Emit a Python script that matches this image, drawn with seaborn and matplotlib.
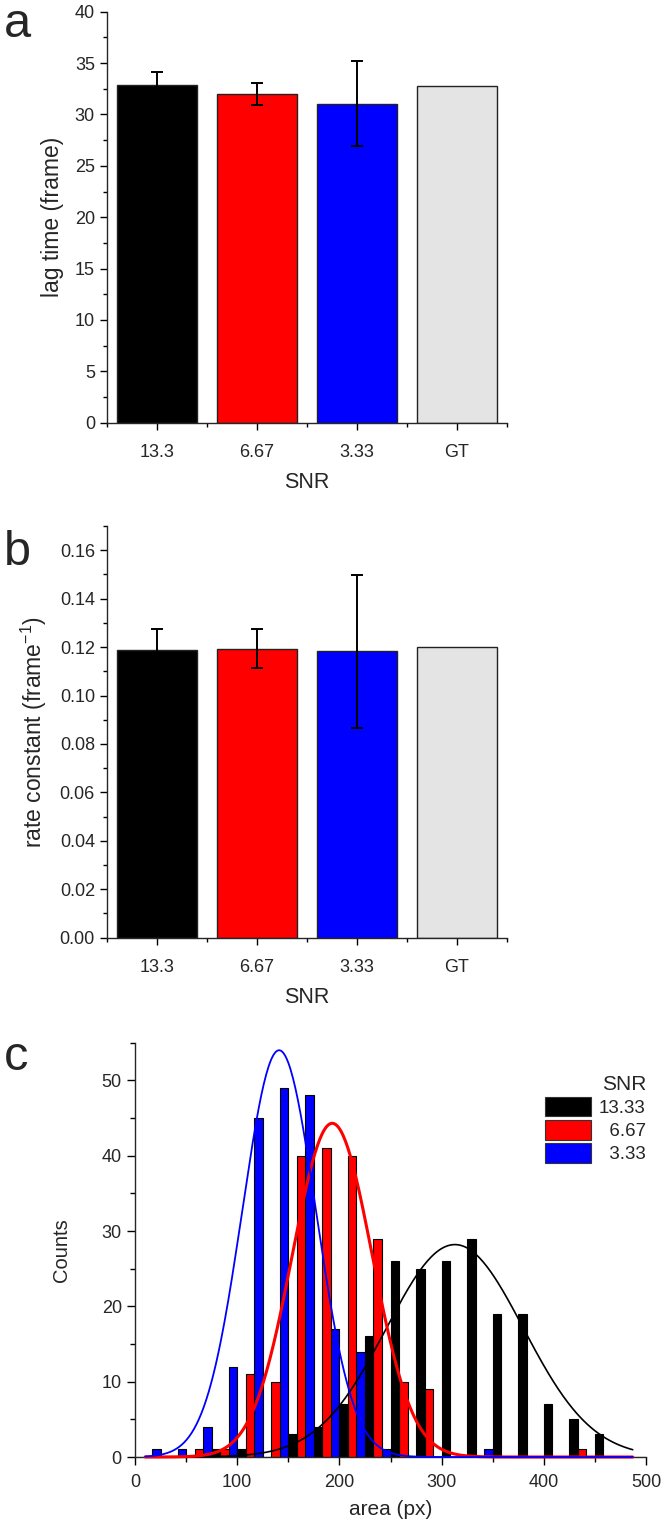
import numpy as np
import pandas as pd
import matplotlib
matplotlib.use("Agg")
import matplotlib.pyplot as plt
from matplotlib.patches import Patch
from matplotlib.ticker import MultipleLocator, FixedLocator
import seaborn as sns

# ---------------- data ----------------
snr_labels = ["13.3", "6.67", "3.33", "GT"]
bar_colors = ["#000000", "#FF0000", "#0000FF", "#E4E4E4"]

lag_time = [32.86, 31.98, 31.04, 32.76]
lag_err = [1.26, 1.1, 4.12]

rate_const = [0.1189, 0.1193, 0.1183, 0.1200]
rate_err = [0.0084, 0.0080, 0.0316]

hist_levels = ["13.33", "6.67", "3.33"]
hist_colors = ["#000000", "#FF0000", "#0000FF"]
bin_left = [0, 25, 50, 75, 100, 125, 150, 175, 200, 225,
            250, 275, 300, 325, 350, 375, 400, 425, 450, 475]
counts_13 = [0, 0, 0, 1, 1, 0, 3, 4, 7, 16, 26, 25, 26, 29, 19, 19, 7, 5, 3, 0]
counts_6 = [0, 0, 1, 1, 11, 10, 40, 41, 40, 29, 10, 9, 0, 0, 0, 0, 0, 1, 0, 0]
counts_3 = [1, 1, 4, 12, 45, 49, 48, 17, 14, 1, 0, 0, 0, 1, 0, 0, 0, 0, 0, 0]

# Gaussian fit parameters (amplitude, centre, sigma)
fit_amp = [28.2, 44.3, 54.0]
fit_mu = [313.0, 193.0, 141.0]
fit_sigma = [67.0, 39.0, 36.0]
fit_lw = [1.2, 2.2, 1.3]

# ---------------- style ----------------
sns.set_style("ticks")
plt.rcParams["font.family"] = ["Liberation Sans", "DejaVu Sans"]
plt.rcParams["axes.linewidth"] = 1.0

W, H = 666, 1526
fig = plt.figure(figsize=(W / 100, H / 100), dpi=100)


def ax_at(left, top, right, bottom):
    return fig.add_axes([left / W, 1 - bottom / H, (right - left) / W, (bottom - top) / H])


def style_bar_axes(ax):
    sns.despine(ax=ax)
    ax.set_xlim(-0.5, 3.5)
    ax.xaxis.set_minor_locator(FixedLocator([-0.5, 0.5, 1.5, 2.5, 3.5]))
    ax.tick_params(axis="both", which="major", direction="out", length=5, width=1,
                   labelsize=13, color="black")
    ax.tick_params(axis="both", which="minor", direction="out", length=3, width=1,
                   color="black")
    ax.tick_params(axis="x", which="major", pad=10.5)
    ax.set_xlabel("SNR", fontsize=15.5, labelpad=8)


# ---------------- panel a ----------------
ax1 = ax_at(106.7, 11.7, 506.7, 422.7)
df_a = pd.DataFrame({"SNR": snr_labels, "val": lag_time})
sns.barplot(data=df_a, x="SNR", y="val", hue="SNR", palette=bar_colors,
            order=snr_labels, hue_order=snr_labels, legend=False, width=0.8,
            edgecolor="#222222", linewidth=1.0, saturation=1, ax=ax1)
ax1.errorbar(x=[0, 1, 2], y=lag_time[:3], yerr=lag_err, fmt="none",
             ecolor="black", elinewidth=1.4, capsize=4, capthick=1.4, zorder=5)
ax1.set_ylim(0, 40)
ax1.yaxis.set_major_locator(MultipleLocator(5))
ax1.yaxis.set_minor_locator(MultipleLocator(2.5))
ax1.set_ylabel("lag time (frame)", fontsize=16.5, labelpad=8)
style_bar_axes(ax1)

# ---------------- panel b ----------------
ax2 = ax_at(106.7, 526, 506.7, 937.7)
df_b = pd.DataFrame({"SNR": snr_labels, "val": rate_const})
sns.barplot(data=df_b, x="SNR", y="val", hue="SNR", palette=bar_colors,
            order=snr_labels, hue_order=snr_labels, legend=False, width=0.8,
            edgecolor="#222222", linewidth=1.0, saturation=1, ax=ax2)
ax2.errorbar(x=[0, 1, 2], y=rate_const[:3], yerr=rate_err, fmt="none",
             ecolor="black", elinewidth=1.4, capsize=4, capthick=1.4, zorder=5)
ax2.set_ylim(0, 0.17)
ax2.yaxis.set_major_locator(MultipleLocator(0.02))
ax2.yaxis.set_minor_locator(MultipleLocator(0.01))
ax2.yaxis.set_major_formatter(matplotlib.ticker.FormatStrFormatter("%.2f"))
ax2.set_ylabel(r"rate constant (frame$^{\mathregular{-1}}$)", fontsize=16.5, labelpad=8)
style_bar_axes(ax2)

# ---------------- panel c ----------------
ax3 = ax_at(135, 1042.7, 646, 1457)
centers = [b + 12.5 for b in bin_left]
df_c = pd.DataFrame({
    "area": centers * 3,
    "count": counts_13 + counts_6 + counts_3,
    "SNR": [hist_levels[0]] * len(centers) + [hist_levels[1]] * len(centers)
           + [hist_levels[2]] * len(centers),
})
sns.histplot(data=df_c, x="area", weights="count", hue="SNR", hue_order=hist_levels,
             palette=hist_colors, binwidth=25, binrange=(0, 500), multiple="dodge",
             shrink=1, alpha=1, edgecolor="black", linewidth=0.8, legend=False, ax=ax3)

xs = np.linspace(10, 487, 400)
for amp, mu, sig, col, lw in zip(fit_amp, fit_mu, fit_sigma, hist_colors, fit_lw):
    ys = amp * np.exp(-((xs - mu) ** 2) / (2 * sig ** 2))
    sns.lineplot(x=xs, y=ys, color=col, linewidth=lw, ax=ax3, zorder=6, clip_on=False)

ax3.set_xlim(0, 500)
ax3.set_ylim(0, 55)
ax3.xaxis.set_major_locator(MultipleLocator(100))
ax3.xaxis.set_minor_locator(MultipleLocator(50))
ax3.yaxis.set_major_locator(MultipleLocator(10))
ax3.yaxis.set_minor_locator(MultipleLocator(5))
sns.despine(ax=ax3)
ax3.tick_params(axis="both", which="major", direction="out", length=6, width=1,
                labelsize=13, color="black")
ax3.tick_params(axis="both", which="minor", direction="out", length=3.5, width=1,
                color="black")
ax3.tick_params(axis="x", which="major", pad=6)
ax3.set_xlabel("area (px)", fontsize=15, labelpad=7)
ax3.set_ylabel("Counts", fontsize=14.5, labelpad=22)

handles = [Patch(facecolor=c, edgecolor="#333333", linewidth=0.8) for c in hist_colors]
leg = ax3.legend(handles, ["13.33", "\u20076.67", "\u20073.33"], title="SNR",
                 loc="upper right", bbox_to_anchor=(1.0, 0.922), frameon=False,
                 fontsize=13.5, title_fontsize=15, alignment="right",
                 handlelength=2.45, handleheight=1.2, handletextpad=0.43,
                 labelspacing=0.17, borderaxespad=0.0, borderpad=0.0)

# ---------------- panel letters ----------------
fig.text(4 / W, 1 - 37 / H, "a", fontsize=35, va="baseline", ha="left")
fig.text(4 / W, 1 - 565 / H, "b", fontsize=35, va="baseline", ha="left")
fig.text(4 / W, 1 - 1070 / H, "c", fontsize=35, va="baseline", ha="left")

fig.savefig("out.png", dpi=100)
